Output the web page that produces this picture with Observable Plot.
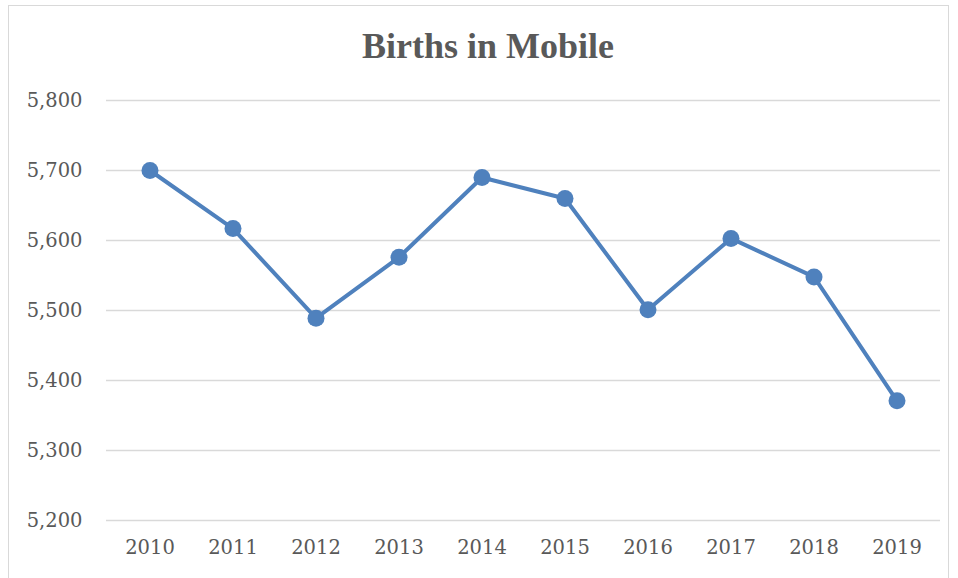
<!DOCTYPE html>
<html>
<head>
<meta charset="utf-8">
<script src="https://cdn.jsdelivr.net/npm/d3@7"></script>
<script src="https://cdn.jsdelivr.net/npm/@observablehq/plot@0.6"></script>
<style>
  html, body { margin: 0; padding: 0; background: #fff; }
  #wrap { position: relative; width: 958px; height: 578px; overflow: hidden; }
  #frame { position: absolute; left: 8px; top: 5px; width: 941px; height: 620px; border: 1px solid #d9d9d9; box-sizing: border-box; }
  #title { position: absolute; left: 0; width: 976px; top: 25px; text-align: center;
           font-family: "Liberation Serif", serif; font-weight: bold; font-size: 36px; color: #595959; }
  #chart { position: absolute; left: 0; top: 0; }
</style>
</head>
<body>
<div id="wrap">
  <div id="frame"></div>
  <div id="title">Births in Mobile</div>
  <div id="chart"></div>
</div>
<script>
const years = ["2010","2011","2012","2013","2014","2015","2016","2017","2018","2019"];
const births = [5700, 5617, 5489, 5576, 5690, 5660, 5501, 5603, 5548, 5371];
const yTicks = [5200, 5300, 5400, 5500, 5600, 5700, 5800];

const data = years.map((y, i) => ({year: y, value: births[i]}));

const chart = Plot.plot({
  width: 958,
  height: 578,
  marginLeft: 106,
  marginRight: 18,
  marginTop: 100,
  marginBottom: 58,
  style: {fontFamily: "DejaVu Serif, serif", fontSize: "19.5px", color: "#595959", background: "transparent"},
  x: {type: "band", domain: years, padding: 0, label: null, tickSize: 0, tickPadding: 20},
  y: {domain: [5200, 5800], ticks: yTicks, tickFormat: d3.format(","), label: null, tickSize: 0, tickPadding: 24},
  marks: [
    Plot.gridY(yTicks, {stroke: "#d9d9d9", strokeOpacity: 1, strokeWidth: 1.5}),
    Plot.line(data, {x: "year", y: "value", stroke: "#4f81bd", strokeWidth: 4}),
    Plot.dot(data, {x: "year", y: "value", r: 8.5, fill: "#4f81bd", stroke: "none"})
  ]
});
document.getElementById("chart").appendChild(chart);
</script>
</body>
</html>
